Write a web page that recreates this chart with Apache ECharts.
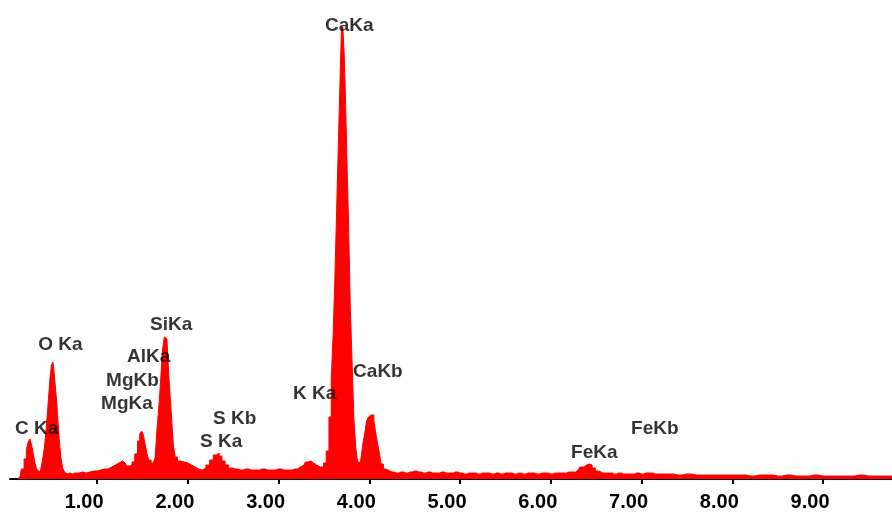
<!DOCTYPE html>
<html>
<head>
<meta charset="utf-8">
<script src="https://cdn.jsdelivr.net/npm/echarts@6/dist/echarts.min.js"></script>
<style>
html,body{margin:0;padding:0;background:#fff;}
#chart{width:892px;height:513px;}
</style>
</head>
<body>
<div id="chart"></div>
<script>
// Energy (keV) of each channel sample
const energies = [
0.12,0.15,0.18,0.21,0.23,0.25,0.27,0.29,0.31,0.33,0.35,0.37,0.39,0.41,0.43,0.45,0.47,0.49,0.505,0.52,0.535,
0.55,0.57,0.59,0.61,0.63,0.65,0.67,0.70,0.73,0.76,0.80,0.84,0.88,0.92,0.96,1.00,1.04,1.08,1.12,1.16,
1.20,1.24,1.28,1.31,1.34,1.37,1.40,1.43,1.46,1.48,1.50,1.52,1.54,1.56,1.58,1.61,1.63,1.65,1.67,1.69,
1.71,1.73,1.75,1.77,1.79,1.81,1.83,1.85,1.87,1.90,1.94,1.98,2.02,2.06,2.10,2.14,2.18,2.22,2.26,2.30,
2.33,2.36,2.39,2.43,2.47,2.52,2.58,2.64,2.70,2.76,2.82,2.88,2.94,3.00,3.06,3.12,3.18,3.24,3.28,3.31,
3.34,3.37,3.40,3.44,3.48,3.51,3.54,3.57,3.59,3.61,3.63,3.65,3.67,3.685,3.70,3.715,3.73,3.745,3.76,3.78,
3.80,3.82,3.84,3.86,3.88,3.90,3.92,3.94,3.96,3.98,4.00,4.02,4.04,4.06,4.08,4.10,4.12,4.14,4.17,4.20,
4.25,4.30,4.35,4.40,4.45,4.50,4.55,4.60,4.65,4.70,4.75,4.80,4.85,4.90,4.95,5.00,5.05,5.10,5.15,5.20,
5.25,5.30,5.35,5.40,5.45,5.50,5.55,5.60,5.65,5.70,5.75,5.80,5.85,5.90,5.95,6.00,6.05,6.10,6.15,6.20,
6.25,6.30,6.34,6.38,6.41,6.44,6.47,6.51,6.55,6.60,6.65,6.70,6.75,6.80,6.85,6.90,6.95,7.00,7.05,7.10,
7.15,7.20,7.30,7.40,7.50,7.60,7.70,7.80,7.90,8.00,8.10,8.20,8.30,8.40,8.50,8.60,8.70,8.80,8.90,9.00,
9.10,9.20,9.30,9.40,9.50,9.60,9.70,9.76
];
// Counts in each channel
const counts = [
0,20,100,200,290,370,400,330,230,140,90,70,100,200,320,520,750,1000,1140,1170,1050,
900,700,420,220,110,70,50,60,50,60,60,70,60,70,80,80,90,100,100,120,
140,160,180,160,130,140,170,250,380,450,480,440,340,250,190,160,170,220,500,720,
980,1280,1420,1400,1200,880,620,340,220,180,170,160,140,120,100,90,110,140,190,240,
260,230,180,140,110,100,90,100,90,90,100,90,90,100,90,90,100,120,140,170,
180,160,140,120,120,160,280,620,1000,1420,2000,2700,3400,4000,4490,4520,4260,3800,3200,2600,
1720,1160,600,320,180,160,220,360,460,580,620,640,640,580,460,360,260,150,100,80,
70,60,70,60,70,80,70,60,70,60,60,70,60,60,70,60,50,60,60,50,
60,60,50,60,50,60,60,50,60,50,60,60,50,60,60,50,60,60,60,70,
70,90,120,140,150,140,110,80,60,60,60,50,60,50,50,50,60,50,60,60,
50,50,50,40,50,40,40,40,40,40,40,30,40,40,30,40,30,30,40,30,
30,30,30,40,30,30,30,30
];
// Axis tick values and labels
const tickValues = [1,2,3,4,5,6,7,8,9];
const tickLabels = ['1.00','2.00','3.00','4.00','5.00','6.00','7.00','8.00','9.00'];
// Peak annotations: name, anchor energy (left edge of text), anchor count (text middle)
const peakNames = ['C Ka','O Ka','MgKa','MgKb','AlKa','SiKa','S Ka','S Kb','K Ka','CaKa','CaKb','FeKa','FeKb'];
const peakE     = [0.096,0.35,1.044,1.099,1.33,1.584,2.135,2.278,3.16,3.512,3.821,6.223,6.884];
const peakC     = [500,1340,750,980,1220,1540,370,600,850,4530,1070,260,500];

const spectrum = energies.map((e, i) => [e, counts[i]]);
const peaks = peakNames.map((n, i) => ({name: n, value: [peakE[i], peakC[i]]}));

const chart = echarts.init(document.getElementById('chart'), null, {renderer: 'canvas'});
chart.setOption({
  animation: false,
  backgroundColor: '#ffffff',
  grid: {left: 10, right: 0, top: 0, bottom: 34},
  xAxis: {
    type: 'value',
    min: 0.04,
    max: 9.76,
    offset: 5,
    axisLine: {show: true, lineStyle: {color: '#000', width: 2}},
    axisTick: {show: true, length: 5, lineStyle: {color: '#000', width: 2}, customValues: tickValues},
    axisLabel: {
      customValues: tickValues,
      formatter: v => tickLabels[tickValues.indexOf(Math.round(v))] || '',
      color: '#000',
      fontFamily: 'Liberation Sans',
      fontWeight: 'bold',
      fontSize: 20,
      margin: 8,
      padding: [0, 26, 0, 0]
    },
    splitLine: {show: false}
  },
  yAxis: {
    type: 'value',
    min: 0,
    max: 4790,
    show: false
  },
  series: [
    {
      type: 'line',
      data: spectrum,
      step: 'middle',
      showSymbol: false,
      lineStyle: {color: '#ff0000', width: 1},
      itemStyle: {color: '#ff0000'},
      areaStyle: {color: '#ff0000', opacity: 1},
      silent: true
    },
    {
      type: 'scatter',
      data: peaks,
      symbolSize: 0,
      silent: true,
      z: 5,
      label: {
        show: true,
        position: 'right',
        distance: 0,
        formatter: p => p.name,
        color: '#000',
        fontFamily: 'Liberation Sans',
        fontWeight: 'bold',
        fontSize: 19,
        align: 'left',
        verticalAlign: 'middle'
      }
    }
  ]
});
</script>
</body>
</html>
